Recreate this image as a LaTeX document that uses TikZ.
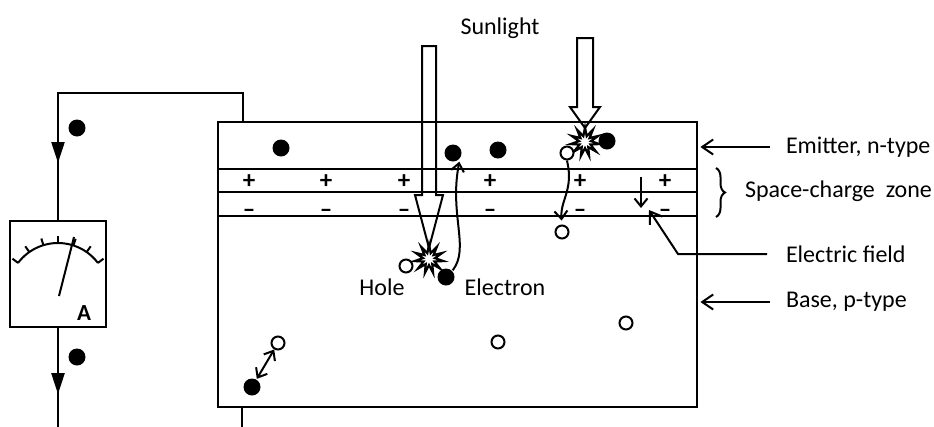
\documentclass[tikz,border=0pt]{standalone}
\usepackage{fontspec}
\setmainfont{Carlito}
\usepackage{tikz}
\usetikzlibrary{positioning, arrows.meta, shapes.geometric, decorations.pathreplacing, decorations.markings}

\tikzset{
  electron/.style={circle, fill=black, inner sep=0pt, minimum size=17pt},
  hole/.style={circle, draw=black, line width=2pt, fill=white, inner sep=0pt, minimum size=13pt},
  burst/.style={star, star points=11, star point ratio=2.4, draw, line width=2.2pt,
                fill=white, inner sep=0pt, minimum size=29pt},
  sidetext/.style={font=\fontsize{24}{28}\selectfont, anchor=west, inner sep=0pt},
  plaintext/.style={font=\fontsize{24}{28}\selectfont, inner sep=0pt},
  charge/.style={font=\fontsize{25}{25}\bfseries\selectfont, inner sep=0pt,
                 text height=14pt, text depth=0pt},
  carrier/.style={line width=2pt, -{Straight Barb[length=8pt,width=13pt]}},
  pointer/.style={line width=2pt, -{Straight Barb[length=11pt,width=15pt]}},
  wire/.style={line width=2.2pt},
}

\begin{document}
\begin{tikzpicture}[x=1pt, y=-1pt, line width=2pt]
  \useasboundingbox (0,0) rectangle (934,426);

  % cell body with the junction layers
  \node[draw, line width=2.4pt, minimum width=479pt, minimum height=285pt,
        anchor=north west, inner sep=0pt] (cell) at (217,121) {};
  \foreach \y in {169,192,216}
    \draw[line width=2.2pt] (217,\y) -- (696,\y);
  \foreach \x in {249,326,404,490,580,665} {
    \node[charge] (p\x) at (\x,181) {+};
    \node[charge] (m\x) at (\x,210) {--};
  }

  % incoming light
  \node[plaintext] (sun) at (500,28) {Sunlight};
  \draw (422,46) -- (422,195) -- (415,195) -- (429,248) -- (443,195) -- (436,195) -- (436,46) -- cycle;
  \draw (577,38) -- (577,107) -- (570,107) -- (585,128) -- (600,107) -- (593,107) -- (593,38) -- cycle;
  \node[burst] (b1) at (429,259) {};
  \node[burst] (b2) at (585,142) {};

  % carriers
  \node[electron] (e1) at (281,148) {};
  \node[electron] (e2) at (453,153) {};
  \node[electron] (e3) at (498,150) {};
  \node[electron] (e4) at (607,141) {};
  \node[hole] (h1) at (567,153) {};
  \node[hole] (h2) at (562,232) {};
  \node[hole] (h3) at (406,266) {};
  \node[electron] (e5) at (446,277) {};
  \node[hole] (h4) at (498,342) {};
  \node[hole] (h5) at (626,323) {};
  \node[hole] (h6) at (278,343) {};
  \node[electron] (e6) at (252,387) {};

  \node[plaintext] (holetxt) at (382,287) {Hole};
  \node[plaintext] (eltxt) at (505,287) {Electron};

  \draw[carrier, shorten >=2pt] (e5.north east) .. controls (470,248) and (449,215) .. (e2.south east);
  \draw[carrier, shorten >=4pt] (h1.south) .. controls (574,190) and (560,200) .. (h2.north);
  \draw[carrier, {Straight Barb[length=8pt,width=13pt]}-{Straight Barb[length=8pt,width=13pt]}] (e6) -- (h6);

  % field direction inside the junction
  \coordinate (ftop) at (641,177);
  \coordinate (fbot) at (641,208);
  \draw[carrier] (ftop) -- (fbot);

  % labels on the right
  \node[sidetext] (emitter) at (785,147) {Emitter, n-type};
  \node[sidetext] (zone) at (744,191) {Space-charge\ \ zone};
  \node[sidetext] (field) at (785,254) {Electric field};
  \node[sidetext] (base) at (785,302) {Base, p-type};

  \draw[pointer, shorten >=2pt] ([xshift=-15pt]emitter.west) -- (cell.east |- emitter.west);
  \draw[pointer, shorten >=2pt] ([xshift=-15pt]base.west) -- (cell.east |- base.west);
  \draw[pointer] ([xshift=-18pt]field.west) -- (678,254) -- (649,210);
  \draw[decorate, decoration={brace, amplitude=9pt}, line width=2pt] (716,168) -- (716,217);

  % ammeter
  \node[draw, line width=2.4pt, minimum width=96pt, minimum height=106pt, inner sep=0pt] (meter) at (58,274) {};
  \draw (58,293) ++(217:50) arc (217:323:50);
  \foreach \a in {217,235,253,270,288,305,323}
    \draw (58,293) ++(\a:50) -- ++(\a:7);
  \draw (59,296) -- (74,237);
  \node[font=\fontsize{23}{23}\bfseries\selectfont] (amp) at (84,313) {A};

  % external circuit
  \draw[wire, postaction={decorate}, decoration={markings,
        mark=at position 283pt with {\arrow{Triangle[length=21pt,width=13pt]}}}]
    ([xshift=26pt]cell.north west) -- ++(0,-28) -| (meter.north);
  \draw[wire, postaction={decorate}, decoration={markings,
        mark=at position 66pt with {\arrow{Triangle[length=21pt,width=13pt]}}}]
    (meter.south) -- ++(0,99);
  \draw[wire] ([xshift=25pt]cell.south west) -- ++(0,20);
  \node[electron] (w1) at (77,128) {};
  \node[electron] (w2) at (77,357) {};
\end{tikzpicture}
\end{document}
